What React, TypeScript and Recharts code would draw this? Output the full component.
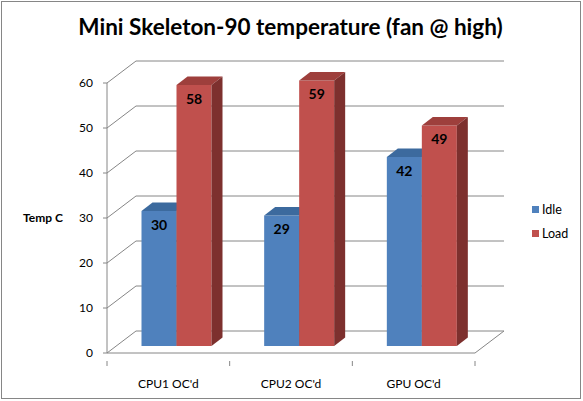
import { BarChart, Bar, XAxis, YAxis, CartesianGrid, Legend, LabelList } from 'recharts';

const categories = ["CPU1 OC'd", "CPU2 OC'd", "GPU OC'd"];
const idleTemps = [30, 29, 42];
const loadTemps = [58, 59, 49];
const yTicks = [0, 10, 20, 30, 40, 50, 60];

const data = categories.map((name, i) => ({ name, Idle: idleTemps[i], Load: loadTemps[i] }));

const FONT = 'Lato, "Open Sans", sans-serif';
const GRID = '#868686';

// 3d look: back wall depth, bar offset into the box and bar depth
const WALL_DX = 29;
const WALL_DY = 22;
const SHIFT_X = 8.5;
const SHIFT_Y = 7;
const DEPTH_X = 11;
const DEPTH_Y = 8.5;

const PLOT_W = 475 - 107;
const BAND = PLOT_W / categories.length;

function Bar3D(props: any) {
    const { x, y, width, height, fill, topFill, sideFill } = props;
    if (height == null || width == null) return null;
    const x0 = x + SHIFT_X;
    const x1 = x0 + width;
    const y0 = y - SHIFT_Y;
    const y1 = y0 + height;
    return (
        <g>
            <rect x={x0} y={y0} width={width} height={height} fill={fill} />
            <polygon
                points={`${x0},${y0} ${x0 + DEPTH_X},${y0 - DEPTH_Y} ${x1 + DEPTH_X},${y0 - DEPTH_Y} ${x1},${y0}`}
                fill={topFill}
            />
            <polygon
                points={`${x1},${y0} ${x1 + DEPTH_X},${y0 - DEPTH_Y} ${x1 + DEPTH_X},${y1 - DEPTH_Y} ${x1},${y1}`}
                fill={sideFill}
            />
        </g>
    );
}

function renderValue(props: any) {
    const { x, y, width, value } = props;
    return (
        <text
            x={Number(x) + Number(width) / 2 + SHIFT_X}
            y={Number(y) - SHIFT_Y + 13}
            textAnchor="middle"
            dominantBaseline="central"
            fontFamily={FONT}
            fontWeight="bold"
            fontSize={14}
            fill="#000"
        >
            {value}
        </text>
    );
}

function gridLine(props: any) {
    const { x1, y1, x2, y, height } = props;
    const bottom = y + height;
    const isFloor = Math.abs(y1 - bottom) < 0.5;
    return (
        <g key={props.key}>
            <path
                d={`M${x1},${y1} L${x1 + WALL_DX},${y1 - WALL_DY} L${x2 + WALL_DX},${y1 - WALL_DY}`}
                stroke={GRID}
                fill="none"
                strokeWidth={1}
            />
            {isFloor && (
                <path d={`M${x2},${y1} L${x2 + WALL_DX},${y1 - WALL_DY}`} stroke={GRID} fill="none" strokeWidth={1} />
            )}
        </g>
    );
}

function CategoryTick(props: any) {
    const { x, y, payload, index, visibleTicksCount } = props;
    const left = x - BAND / 2;
    const right = x + BAND / 2;
    return (
        <g>
            <line x1={left} y1={y} x2={left} y2={y + 5} stroke={GRID} />
            {index === visibleTicksCount - 1 && <line x1={right} y1={y} x2={right} y2={y + 5} stroke={GRID} />}
            <text
                x={x}
                y={y + 22}
                textAnchor="middle"
                dominantBaseline="central"
                fontFamily={FONT}
                fontSize={12}
                fill="#000"
            >
                {payload.value}
            </text>
        </g>
    );
}

function LegendBox(props: any) {
    const { payload } = props;
    return (
        <div style={{ fontFamily: FONT, fontSize: 12.5, color: '#000' }}>
            {payload.map((p: any) => (
                <div key={p.value} style={{ display: 'flex', alignItems: 'center', height: 24 }}>
                    <span style={{ width: 7, height: 7, background: p.color, marginRight: 3, display: 'inline-block' }} />
                    {p.value}
                </div>
            ))}
        </div>
    );
}

export default function App() {
    return (
        <div style={{ position: 'absolute', left: 0, top: 0, width: 583, height: 401, background: '#fff' }}>
            <div
                style={{
                    position: 'absolute',
                    left: 1,
                    top: 1,
                    width: 580,
                    height: 398,
                    boxSizing: 'border-box',
                    border: `1px solid ${GRID}`,
                }}
            />
            <div
                style={{
                    position: 'absolute',
                    left: 0,
                    top: 13,
                    width: 581,
                    textAlign: 'center',
                    fontFamily: FONT,
                    fontWeight: 'bold',
                    fontSize: 22.5,
                    lineHeight: '28px',
                    color: '#000',
                }}
            >
                Mini Skeleton-90 temperature (fan @ high)
            </div>
            <div style={{ position: 'absolute', left: 0, top: 0 }}>
                <BarChart
                    width={583}
                    height={401}
                    data={data}
                    margin={{ top: 83, right: 108, bottom: 0, left: 0 }}
                    barSize={35}
                    barGap={0}
                >
                    <CartesianGrid vertical={false} horizontal={gridLine} />
                    <XAxis
                        dataKey="name"
                        height={48}
                        axisLine={{ stroke: GRID }}
                        tickLine={false}
                        tick={<CategoryTick />}
                        interval={0}
                    />
                    <YAxis
                        width={107}
                        domain={[0, 60]}
                        ticks={yTicks}
                        interval={0}
                        axisLine={{ stroke: GRID }}
                        tickLine={{ stroke: GRID }}
                        tickSize={4}
                        tickMargin={10}
                        tick={{ fill: '#000', fontSize: 12, fontFamily: FONT }}
                        label={{
                            value: 'Temp C',
                            position: 'insideLeft',
                            offset: 23,
                            style: { fontFamily: FONT, fontWeight: 'bold', fontSize: 12, fill: '#000' },
                        }}
                    />
                    <Legend
                        layout="vertical"
                        align="center"
                        verticalAlign="middle"
                        content={<LegendBox />}
                        wrapperStyle={{ left: 532, top: 197, width: 'auto' }}
                    />
                    <Bar
                        dataKey="Idle"
                        fill="#4F81BD"
                        isAnimationActive={false}
                        shape={(p: any) => <Bar3D {...p} topFill="#3C6A9E" sideFill="#2F5480" />}
                    >
                        <LabelList dataKey="Idle" content={renderValue} />
                    </Bar>
                    <Bar
                        dataKey="Load"
                        fill="#C0504D"
                        isAnimationActive={false}
                        shape={(p: any) => <Bar3D {...p} topFill="#9E3F3C" sideFill="#7D302E" />}
                    >
                        <LabelList dataKey="Load" content={renderValue} />
                    </Bar>
                </BarChart>
            </div>
        </div>
    );
}
